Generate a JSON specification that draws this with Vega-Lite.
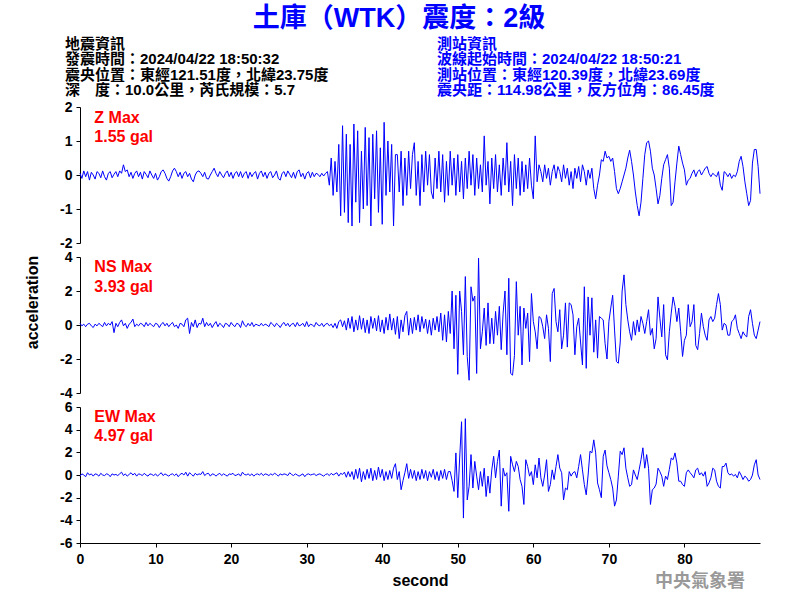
{
"$schema": "https://vega.github.io/schema/vega-lite/v6.json",
"background": "white",
"padding": {"left": 24, "top": 5, "right": 20, "bottom": 6},
"title": {"text": "土庫（WTK）震度：2級", "color": "#0000ff", "fontSize": 27, "font": "Liberation Sans, Noto Sans CJK TC", "fontWeight": "bold", "anchor": "middle", "dx": 6, "offset": 0},
"data": {"values": [
{"t":0,"z":0.05,"n":0.1,"e":-0.1},{"t":0.25,"z":-0.1,"n":-0.05,"e":0.1},{"t":0.5,"z":0.12,"n":0.05,"e":0},{"t":0.75,"z":-0.05,"n":-0.1,"e":-0.15},
{"t":1,"z":0.1,"n":0.05,"e":0.2},{"t":1.25,"z":-0.15,"n":0.1,"e":0},{"t":1.5,"z":0.08,"n":-0.05,"e":0.1},{"t":1.75,"z":0,"n":-0.15,"e":-0.1},
{"t":2,"z":-0.12,"n":0.05,"e":0.1},{"t":2.25,"z":0.1,"n":-0.05,"e":0.05},{"t":2.5,"z":0.05,"n":0.1,"e":-0.1},{"t":2.75,"z":-0.08,"n":0,"e":0.15},
{"t":3,"z":0.12,"n":-0.1,"e":0},{"t":3.25,"z":-0.05,"n":0.15,"e":-0.05},{"t":3.5,"z":-0.15,"n":-0.05,"e":0.1},{"t":3.75,"z":0.05,"n":0.1,"e":0.05},
{"t":4,"z":0.1,"n":0,"e":-0.15},{"t":4.25,"z":-0.08,"n":0.2,"e":0.1},{"t":4.5,"z":0.02,"n":-0.45,"e":0},{"t":4.75,"z":0.1,"n":0.1,"e":0.05},
{"t":5,"z":-0.05,"n":-0.1,"e":-0.05},{"t":5.25,"z":0.12,"n":0.15,"e":0.1},{"t":5.5,"z":0.05,"n":0.3,"e":0.25},{"t":5.75,"z":0.3,"n":-0.05,"e":-0.05},
{"t":6,"z":0.1,"n":0.1,"e":0.1},{"t":6.25,"z":0.15,"n":-0.2,"e":-0.1},{"t":6.5,"z":-0.05,"n":0.05,"e":0.05},{"t":6.75,"z":0.08,"n":0.15,"e":0.2},
{"t":7,"z":-0.1,"n":0.35,"e":0},{"t":7.25,"z":0.05,"n":-0.1,"e":0.15},{"t":7.5,"z":0.12,"n":0.05,"e":-0.1},{"t":7.75,"z":-0.05,"n":-0.05,"e":0.1},
{"t":8,"z":0.08,"n":0.1,"e":0.05},{"t":8.25,"z":-0.12,"n":0.05,"e":-0.05},{"t":8.5,"z":0.1,"n":-0.1,"e":0.15},{"t":8.75,"z":0.02,"n":0.15,"e":0},
{"t":9,"z":-0.08,"n":-0.05,"e":-0.1},{"t":9.25,"z":0.12,"n":0.1,"e":0.1},{"t":9.5,"z":0,"n":0,"e":0.05},{"t":9.75,"z":-0.1,"n":-0.1,"e":-0.05},
{"t":10,"z":0.05,"n":0.1,"e":0.1},{"t":10.25,"z":-0.15,"n":0.05,"e":-0.1},{"t":10.5,"z":-0.05,"n":-0.15,"e":0.05},{"t":10.75,"z":0.1,"n":0.05,"e":0.2},
{"t":11,"z":0.15,"n":0.15,"e":-0.05},{"t":11.25,"z":0.05,"n":-0.05,"e":0.1},{"t":11.5,"z":-0.1,"n":0.1,"e":0},{"t":11.75,"z":-0.18,"n":-0.1,"e":-0.1},
{"t":12,"z":-0.05,"n":0.05,"e":0.05},{"t":12.25,"z":0.12,"n":0.15,"e":0.1},{"t":12.5,"z":0.2,"n":-0.1,"e":-0.05},{"t":12.75,"z":0.1,"n":0,"e":0.1},
{"t":13,"z":-0.05,"n":-0.2,"e":-0.15},{"t":13.25,"z":0.08,"n":0.1,"e":0.05},{"t":13.5,"z":-0.1,"n":0.05,"e":0.15},{"t":13.75,"z":0.05,"n":-0.1,"e":0},
{"t":14,"z":0.1,"n":0.3,"e":0.25},{"t":14.25,"z":-0.05,"n":0.4,"e":-0.1},{"t":14.5,"z":0.05,"n":-0.5,"e":0.2},{"t":14.75,"z":-0.12,"n":0.15,"e":0.05},
{"t":15,"z":-0.2,"n":-0.1,"e":-0.1},{"t":15.25,"z":0,"n":0.3,"e":0.15},{"t":15.5,"z":0.1,"n":-0.15,"e":0},{"t":15.75,"z":0.12,"n":0.1,"e":0.1},
{"t":16,"z":0.05,"n":0.05,"e":0.05},{"t":16.25,"z":-0.05,"n":0.4,"e":0.3},{"t":16.5,"z":0.08,"n":-0.1,"e":-0.05},{"t":16.75,"z":-0.1,"n":0.15,"e":0.1},
{"t":17,"z":-0.12,"n":-0.05,"e":0.15},{"t":17.25,"z":0,"n":0.1,"e":-0.1},{"t":17.5,"z":0.1,"n":-0.15,"e":0.1},{"t":17.75,"z":0.2,"n":0.05,"e":0.05},
{"t":18,"z":0.05,"n":0.2,"e":-0.1},{"t":18.25,"z":-0.05,"n":-0.1,"e":0.05},{"t":18.5,"z":0.1,"n":0.1,"e":0.15},{"t":18.75,"z":0,"n":0,"e":-0.05},
{"t":19,"z":-0.08,"n":-0.15,"e":0.1},{"t":19.25,"z":0.05,"n":0.1,"e":0},{"t":19.5,"z":0.12,"n":0.05,"e":-0.1},{"t":19.75,"z":-0.05,"n":-0.1,"e":0.1},
{"t":20,"z":0.08,"n":0.15,"e":0.05},{"t":20.25,"z":-0.1,"n":0,"e":0.15},{"t":20.5,"z":0.05,"n":-0.1,"e":-0.05},{"t":20.75,"z":0.1,"n":0.1,"e":0},
{"t":21,"z":-0.05,"n":0.05,"e":0.1},{"t":21.25,"z":0.1,"n":-0.15,"e":-0.1},{"t":21.5,"z":-0.08,"n":0.25,"e":0.25},{"t":21.75,"z":0.05,"n":0,"e":0.05},
{"t":22,"z":0.1,"n":-0.1,"e":0},{"t":22.25,"z":-0.1,"n":0.1,"e":0.1},{"t":22.5,"z":0.08,"n":-0.05,"e":-0.05},{"t":22.75,"z":-0.05,"n":0.15,"e":0.1},
{"t":23,"z":0.05,"n":-0.1,"e":-0.1},{"t":23.25,"z":0.1,"n":0.05,"e":0.05},{"t":23.5,"z":-0.12,"n":0,"e":0.1},{"t":23.75,"z":0.05,"n":-0.05,"e":0},
{"t":24,"z":0.12,"n":0.1,"e":0.15},{"t":24.25,"z":-0.05,"n":-0.05,"e":-0.05},{"t":24.5,"z":0.08,"n":0.05,"e":0.1},{"t":24.75,"z":-0.1,"n":0,"e":0.05},
{"t":25,"z":0.05,"n":-0.1,"e":-0.05},{"t":25.25,"z":0.1,"n":0.15,"e":0.1},{"t":25.5,"z":-0.08,"n":0.05,"e":0},{"t":25.75,"z":0,"n":-0.1,"e":0.15},
{"t":26,"z":0.12,"n":0.1,"e":0.05},{"t":26.25,"z":-0.1,"n":0,"e":-0.1},{"t":26.5,"z":-0.15,"n":-0.15,"e":0.1},{"t":26.75,"z":0.05,"n":0.05,"e":0},
{"t":27,"z":0.1,"n":0.15,"e":0.1},{"t":27.25,"z":-0.05,"n":-0.05,"e":0.05},{"t":27.5,"z":0.12,"n":0.1,"e":-0.05},{"t":27.75,"z":0.02,"n":-0.1,"e":0.2},
{"t":28,"z":-0.08,"n":0.05,"e":0.05},{"t":28.25,"z":0.08,"n":0.1,"e":-0.05},{"t":28.5,"z":-0.1,"n":-0.1,"e":0.1},{"t":28.75,"z":0.1,"n":0.15,"e":0},
{"t":29,"z":0.15,"n":-0.05,"e":-0.1},{"t":29.25,"z":-0.05,"n":0,"e":0},{"t":29.5,"z":0.05,"n":0.1,"e":0.1},{"t":29.75,"z":-0.12,"n":-0.1,"e":-0.15},
{"t":30,"z":0.05,"n":0.2,"e":0.05},{"t":30.25,"z":0.1,"n":-0.1,"e":0.1},{"t":30.5,"z":-0.08,"n":0.05,"e":0},{"t":30.75,"z":0.08,"n":0,"e":0.05},
{"t":31,"z":-0.05,"n":-0.1,"e":0.1},{"t":31.25,"z":0.05,"n":0.15,"e":-0.05},{"t":31.5,"z":0.02,"n":0,"e":0.05},{"t":31.75,"z":-0.05,"n":-0.05,"e":0.1},
{"t":32,"z":0.05,"n":0.1,"e":0},{"t":32.25,"z":-0.03,"n":-0.1,"e":-0.1},{"t":32.5,"z":0.05,"n":0.05,"e":0.05},{"t":32.75,"z":0.1,"n":0.1,"e":0.1},
{"t":33,"z":-0.3,"n":-0.05,"e":-0.05},{"t":33.25,"z":0.5,"n":0.05,"e":0.15},{"t":33.5,"z":-0.6,"n":-0.15,"e":0},{"t":33.75,"z":0.4,"n":0.1,"e":0.1},
{"t":34,"z":-0.5,"n":-0.2,"e":0.2},{"t":34.25,"z":0.9,"n":0.2,"e":-0.1},{"t":34.5,"z":-1.2,"n":0.3,"e":0.15},{"t":34.75,"z":1.45,"n":-0.1,"e":0.05},
{"t":35,"z":-1.1,"n":0.25,"e":0.25},{"t":35.25,"z":1.2,"n":-0.3,"e":-0.2},{"t":35.5,"z":-1.4,"n":0.4,"e":0.3},{"t":35.75,"z":0.9,"n":-0.2,"e":-0.15},
{"t":36,"z":-1.5,"n":0.5,"e":0.3},{"t":36.25,"z":1.5,"n":-0.4,"e":-0.4},{"t":36.5,"z":-0.8,"n":0.3,"e":0.5},{"t":36.75,"z":1.3,"n":-0.3,"e":-0.3},
{"t":37,"z":-1.4,"n":0.55,"e":0.6},{"t":37.25,"z":0.7,"n":-0.25,"e":-0.6},{"t":37.5,"z":-1,"n":0.4,"e":0.3},{"t":37.75,"z":1.4,"n":-0.45,"e":-0.4},
{"t":38,"z":-0.9,"n":0.3,"e":0.5},{"t":38.25,"z":1.1,"n":-0.5,"e":-0.3},{"t":38.5,"z":-1.5,"n":0.5,"e":0.6},{"t":38.75,"z":1.2,"n":-0.2,"e":-0.5},
{"t":39,"z":-0.7,"n":0.4,"e":0.4},{"t":39.25,"z":1.3,"n":-0.35,"e":-0.4},{"t":39.5,"z":-1.1,"n":0.55,"e":0.7},{"t":39.75,"z":0.8,"n":-0.4,"e":-0.2},
{"t":40,"z":-1.45,"n":0.3,"e":0.5},{"t":40.25,"z":1.55,"n":-0.5,"e":-0.5},{"t":40.5,"z":-0.6,"n":0.45,"e":0.3},{"t":40.75,"z":1,"n":-0.3,"e":-0.4},
{"t":41,"z":-0.5,"n":0.65,"e":0.4},{"t":41.25,"z":0.9,"n":-0.3,"e":-0.3},{"t":41.5,"z":-1.5,"n":0.4,"e":0.6},{"t":41.75,"z":0.6,"n":-0.55,"e":1},
{"t":42,"z":0.6,"n":0.5,"e":-0.4},{"t":42.25,"z":-0.5,"n":-0.8,"e":0.3},{"t":42.5,"z":0.7,"n":0.3,"e":-1.3},{"t":42.75,"z":-0.9,"n":-0.4,"e":-0.5},
{"t":43,"z":0.5,"n":0.55,"e":0.2},{"t":43.25,"z":-0.6,"n":0.8,"e":1},{"t":43.5,"z":0.7,"n":-0.6,"e":-0.3},{"t":43.75,"z":-0.4,"n":0.4,"e":0.5},
{"t":44,"z":0.6,"n":-0.5,"e":-0.3},{"t":44.25,"z":0.95,"n":0.45,"e":0.4},{"t":44.5,"z":-0.6,"n":-0.3,"e":-0.5},{"t":44.75,"z":0.4,"n":0.6,"e":0.3},
{"t":45,"z":-0.9,"n":-0.4,"e":-0.4},{"t":45.25,"z":0.6,"n":0.5,"e":0.5},{"t":45.5,"z":-0.5,"n":-0.2,"e":-0.3},{"t":45.75,"z":0.7,"n":0.35,"e":0.4},
{"t":46,"z":-0.3,"n":-0.5,"e":-0.5},{"t":46.25,"z":0.6,"n":0.3,"e":0.3},{"t":46.5,"z":-0.5,"n":-0.6,"e":-0.2},{"t":46.75,"z":-0.7,"n":0.4,"e":0.5},
{"t":47,"z":0.5,"n":-0.3,"e":-0.4},{"t":47.25,"z":-0.4,"n":0.5,"e":0.3},{"t":47.5,"z":0.7,"n":-0.4,"e":-0.5},{"t":47.75,"z":-0.5,"n":0.7,"e":0.4},
{"t":48,"z":0.6,"n":-0.9,"e":-0.3},{"t":48.25,"z":-0.8,"n":0.6,"e":0.5},{"t":48.5,"z":0.4,"n":-1,"e":-0.4},{"t":48.75,"z":-0.6,"n":0.8,"e":0.3},
{"t":49,"z":0.7,"n":-0.5,"e":0.3},{"t":49.25,"z":-0.3,"n":2,"e":-0.5},{"t":49.5,"z":0.5,"n":-1.4,"e":-1.45},{"t":49.75,"z":-0.6,"n":1.75,"e":1.95},
{"t":50,"z":0.6,"n":-2.9,"e":-2},{"t":50.25,"z":-0.5,"n":2,"e":1.5},{"t":50.5,"z":0.4,"n":0.8,"e":4.7},{"t":50.75,"z":-0.7,"n":-1.75,"e":-3.8},
{"t":51,"z":0.5,"n":2.85,"e":4.97},{"t":51.25,"z":-0.4,"n":-1.85,"e":-2.2},{"t":51.5,"z":0.7,"n":-3.25,"e":-1},{"t":51.75,"z":-0.3,"n":2.25,"e":1.8},
{"t":52,"z":0.6,"n":1.4,"e":-1.15},{"t":52.25,"z":-0.6,"n":1.7,"e":1.2},{"t":52.5,"z":0.5,"n":-2.85,"e":-0.1},{"t":52.75,"z":-0.4,"n":3.93,"e":-1.3},
{"t":53,"z":0.3,"n":-1.4,"e":0.3},{"t":53.25,"z":-0.5,"n":-0.4,"e":-1},{"t":53.5,"z":1.15,"n":1,"e":0.6},{"t":53.75,"z":-0.3,"n":-1.2,"e":-1.9},
{"t":54,"z":0.4,"n":1.3,"e":-0.1},{"t":54.25,"z":-0.85,"n":-1.1,"e":-1.6},{"t":54.5,"z":0.5,"n":0.4,"e":0.45},{"t":54.75,"z":-0.4,"n":-1.1,"e":1.65},
{"t":55,"z":0.6,"n":0.8,"e":-0.25},{"t":55.25,"z":-0.5,"n":-0.6,"e":1.2},{"t":55.5,"z":0.3,"n":1.1,"e":2.2},{"t":55.75,"z":-0.6,"n":-1.45,"e":-2.75},
{"t":56,"z":0.5,"n":0.7,"e":0.6},{"t":56.25,"z":-0.3,"n":2,"e":-0.1},{"t":56.5,"z":0.95,"n":-1.75,"e":0.2},{"t":56.75,"z":-0.5,"n":2.75,"e":-3.2},
{"t":57,"z":0.4,"n":-2.85,"e":1.65},{"t":57.25,"z":-0.9,"n":-2.95,"e":0.9},{"t":57.5,"z":0.6,"n":-1.8,"e":0.3},{"t":57.75,"z":-0.4,"n":2.55,"e":1.2},
{"t":58,"z":0.5,"n":-0.6,"e":0.75},{"t":58.25,"z":-0.6,"n":1.1,"e":-0.4},{"t":58.5,"z":0.4,"n":-2.35,"e":-1},{"t":58.75,"z":-0.5,"n":1,"e":-2.6},
{"t":59,"z":0.3,"n":-0.2,"e":1.35},{"t":59.25,"z":-0.4,"n":0.7,"e":0.75},{"t":59.5,"z":0.5,"n":-2.15,"e":-0.1},{"t":59.75,"z":-0.3,"n":1.85,"e":0.3},
{"t":60,"z":-0.7,"n":0.2,"e":-0.85},{"t":60.25,"z":1.15,"n":-0.4,"e":0.9},{"t":60.5,"z":-0.2,"n":-1.4,"e":-0.25},{"t":60.75,"z":0.3,"n":0.5,"e":1.5},
{"t":61,"z":0.1,"n":0.4,"e":-0.25},{"t":61.25,"z":-0.2,"n":-0.1,"e":-1},{"t":61.5,"z":0.3,"n":-0.8,"e":0},{"t":61.75,"z":-0.1,"n":0.6,"e":1.35},
{"t":62,"z":0.2,"n":-0.2,"e":-1.45},{"t":62.25,"z":-0.3,"n":-2.15,"e":-0.85},{"t":62.5,"z":0.1,"n":1.85,"e":0.45},{"t":62.75,"z":0.3,"n":2.15,"e":-0.4},
{"t":63,"z":-0.1,"n":0.2,"e":0.75},{"t":63.25,"z":0.25,"n":-0.4,"e":1.8},{"t":63.5,"z":0.1,"n":0.9,"e":0.6},{"t":63.75,"z":-0.2,"n":-1.4,"e":0.2},
{"t":64,"z":0.3,"n":-0.6,"e":-2.2},{"t":64.25,"z":-0.1,"n":1.3,"e":-1.15},{"t":64.5,"z":0.2,"n":-1.3,"e":-1.3},{"t":64.75,"z":-0.3,"n":1.3,"e":0.3},
{"t":65,"z":0.1,"n":1.2,"e":-0.1},{"t":65.25,"z":-0.4,"n":0.6,"e":0.2},{"t":65.5,"z":0.2,"n":-1.75,"e":0.3},{"t":65.75,"z":-0.1,"n":-0.1,"e":-0.25},
{"t":66,"z":0.25,"n":0.4,"e":0.75},{"t":66.25,"z":-0.2,"n":-1,"e":1.8},{"t":66.5,"z":0.3,"n":-2.35,"e":0.45},{"t":66.75,"z":0.1,"n":2.25,"e":-0.85},
{"t":67,"z":-0.3,"n":-2.55,"e":-1.75},{"t":67.25,"z":0.15,"n":1.65,"e":0},{"t":67.5,"z":-0.1,"n":-0.6,"e":2.1},{"t":67.75,"z":0.2,"n":1.6,"e":1.95},
{"t":68,"z":-0.4,"n":-1.6,"e":3.1},{"t":68.25,"z":-0.7,"n":0.3,"e":1.95},{"t":68.5,"z":-0.3,"n":-1.95,"e":-0.7},{"t":68.75,"z":0,"n":0.5,"e":-1.3},
{"t":69,"z":0.45,"n":0.4,"e":-2},{"t":69.25,"z":0.4,"n":0.3,"e":1.65},{"t":69.5,"z":0.7,"n":-1.1,"e":2.2},{"t":69.75,"z":0.5,"n":-2,"e":0.8},
{"t":70,"z":0.55,"n":0.2,"e":0.2},{"t":70.25,"z":0.4,"n":1,"e":-0.4},{"t":70.5,"z":0.5,"n":1.75,"e":-1.15},{"t":70.75,"z":0.1,"n":-0.3,"e":-2.75},
{"t":71,"z":-0.4,"n":-2.15,"e":-2.2},{"t":71.25,"z":-0.55,"n":-2.25,"e":-0.1},{"t":71.5,"z":-0.4,"n":-1,"e":2.1},{"t":71.75,"z":-0.2,"n":2,"e":1.8},
{"t":72,"z":0,"n":2.95,"e":2.4},{"t":72.25,"z":0.2,"n":1.2,"e":0.6},{"t":72.5,"z":0.5,"n":0.3,"e":-0.25},{"t":72.75,"z":0.73,"n":-0.4,"e":-1},
{"t":73,"z":0.4,"n":-0.9,"e":-0.85},{"t":73.25,"z":0,"n":0.2,"e":0.45},{"t":73.5,"z":-0.5,"n":-0.6,"e":0},{"t":73.75,"z":-0.9,"n":0.3,"e":-0.4},
{"t":74,"z":-1.2,"n":-0.4,"e":0.45},{"t":74.25,"z":-0.8,"n":0.5,"e":1.35},{"t":74.5,"z":-0.1,"n":0.1,"e":2.4},{"t":74.75,"z":0.6,"n":-0.5,"e":0.6},
{"t":75,"z":0.95,"n":0.2,"e":1.8},{"t":75.25,"z":1,"n":0.9,"e":0.6},{"t":75.5,"z":0.7,"n":-0.6,"e":-2.6},{"t":75.75,"z":0.2,"n":-0.2,"e":-1.3},
{"t":76,"z":0,"n":-1.4,"e":-1.15},{"t":76.25,"z":-0.4,"n":-0.8,"e":-0.8},{"t":76.5,"z":-0.85,"n":1.65,"e":0.6},{"t":76.75,"z":-0.6,"n":0.4,"e":0.3},
{"t":77,"z":-0.1,"n":-0.7,"e":-0.1},{"t":77.25,"z":0.3,"n":1.2,"e":-1},{"t":77.5,"z":0.45,"n":-1.75,"e":-0.1},{"t":77.75,"z":0.6,"n":-2.05,"e":-0.4},
{"t":78,"z":0.2,"n":-0.4,"e":0.5},{"t":78.25,"z":-0.9,"n":0.7,"e":1.5},{"t":78.5,"z":-0.8,"n":1.65,"e":1.35},{"t":78.75,"z":-0.2,"n":1.1,"e":1.95},
{"t":79,"z":0.35,"n":0.2,"e":1.05},{"t":79.25,"z":0.85,"n":1,"e":-0.55},{"t":79.5,"z":0.6,"n":-0.4,"e":-0.55},{"t":79.75,"z":0.35,"n":-1.85,"e":-0.85},
{"t":80,"z":0.15,"n":-0.9,"e":-1},{"t":80.25,"z":-0.3,"n":-0.6,"e":0.2},{"t":80.5,"z":-0.15,"n":1.2,"e":0.45},{"t":80.75,"z":-0.1,"n":-0.1,"e":0.2},
{"t":81,"z":0.05,"n":0.2,"e":0},{"t":81.25,"z":0.15,"n":1.2,"e":-0.25},{"t":81.5,"z":-0.05,"n":-1.2,"e":0.45},{"t":81.75,"z":0.1,"n":-1.45,"e":0.6},
{"t":82,"z":0.15,"n":-0.5,"e":0},{"t":82.25,"z":0,"n":0.7,"e":0.2},{"t":82.5,"z":0.1,"n":-0.1,"e":-0.1},{"t":82.75,"z":0.2,"n":-0.6,"e":0.3},
{"t":83,"z":0.25,"n":-0.9,"e":-1},{"t":83.25,"z":0.05,"n":0.3,"e":-0.7},{"t":83.5,"z":-0.05,"n":0.5,"e":-0.25},{"t":83.75,"z":0.05,"n":0.2,"e":0.6},
{"t":84,"z":0,"n":0.4,"e":0.45},{"t":84.25,"z":-0.05,"n":1.2,"e":-0.55},{"t":84.5,"z":0.1,"n":1.85,"e":-1},{"t":84.75,"z":-0.3,"n":1.2,"e":-1.15},
{"t":85,"z":-0.45,"n":-0.3,"e":0.75},{"t":85.25,"z":0.1,"n":0.1,"e":0.75},{"t":85.5,"z":0.05,"n":0,"e":1.05},{"t":85.75,"z":-0.05,"n":-0.6,"e":0.2},
{"t":86,"z":0.05,"n":-0.6,"e":0},{"t":86.25,"z":-0.1,"n":0.2,"e":0.1},{"t":86.5,"z":0,"n":0.3,"e":-0.1},{"t":86.75,"z":-0.05,"n":0.6,"e":0.05},
{"t":87,"z":0.1,"n":-0.2,"e":-0.25},{"t":87.25,"z":0.4,"n":-0.5,"e":0.3},{"t":87.5,"z":0.55,"n":-0.8,"e":0},{"t":87.75,"z":0.25,"n":-0.4,"e":-0.4},
{"t":88,"z":-0.2,"n":-0.6,"e":-0.1},{"t":88.25,"z":-0.55,"n":-0.7,"e":-0.25},{"t":88.5,"z":-0.9,"n":0.5,"e":-0.55},{"t":88.75,"z":-0.75,"n":0.9,"e":-0.4},
{"t":89,"z":0.35,"n":0.1,"e":0},{"t":89.25,"z":0.75,"n":-0.6,"e":0.9},{"t":89.5,"z":0.75,"n":-0.8,"e":1.35},{"t":89.75,"z":0.25,"n":-0.3,"e":0},
{"t":90,"z":-0.55,"n":0.2,"e":-0.4}
]},
"spacing": 14,
"bounds": "flush",
"config": {
  "view": {"stroke": null},
  "axis": {"grid": false, "domainColor": "#000000", "domainWidth": 1, "tickColor": "#000000", "tickSize": 4, "tickWidth": 1, "labelFont": "Liberation Sans", "labelFontSize": 14, "labelFontWeight": "bold", "labelColor": "#000000", "labelPadding": 4, "titleFont": "Liberation Sans", "titleFontSize": 16, "titleFontWeight": "bold", "titleColor": "#000000"},
  "axisY": {"minExtent": 24, "maxExtent": 24, "titlePadding": 16, "labelExpr": "replace(datum.label, '−', '-')"},
  "axisX": {"labelFlush": false, "labelPadding": 5, "titlePadding": 6, "labelAngle": 0, "labelExpr": "replace(datum.label, '−', '-')"}
},
"vconcat": [
  {
    "width": 680, "height": 60,
    "data": {"values": [
      {"x": -1.985, "line": 1, "side": "L", "text": "地震資訊"},
      {"x": -1.985, "line": 2, "side": "L", "text": "發震時間：2024/04/22 18:50:32"},
      {"x": -1.985, "line": 3, "side": "L", "text": "震央位置：東經121.51度，北緯23.75度"},
      {"x": -1.985, "line": 4, "side": "L", "text": "深　度：10.0公里，芮氏規模：5.7"},
      {"x": 47.25, "line": 1, "side": "R", "text": "測站資訊"},
      {"x": 47.25, "line": 2, "side": "R", "text": "波線起始時間：2024/04/22 18:50:21"},
      {"x": 47.25, "line": 3, "side": "R", "text": "測站位置：東經120.39度，北緯23.69度"},
      {"x": 47.25, "line": 4, "side": "R", "text": "震央距：114.98公里，反方位角：86.45度"}
    ]},
    "mark": {"type": "text", "align": "left", "baseline": "middle", "fontSize": 15, "fontWeight": "bold", "font": "Liberation Sans Narrow, Liberation Sans, Noto Sans CJK TC"},
    "encoding": {
      "x": {"field": "x", "type": "quantitative", "scale": {"domain": [0, 90], "nice": false, "zero": false}, "axis": null},
      "y": {"field": "line", "type": "quantitative", "scale": {"domain": [0.28, 4.2], "reverse": true, "zero": false, "nice": false}, "axis": null},
      "text": {"field": "text"},
      "color": {"field": "side", "type": "nominal", "scale": {"domain": ["L", "R"], "range": ["#000000", "#0000ff"]}, "legend": null}
    }
  },
  {
    "width": 680, "height": 136,
    "encoding": {
      "x": {"field": "t", "type": "quantitative", "scale": {"domain": [0, 90], "nice": false, "zero": false}, "axis": null},
      "y": {"field": "z", "type": "quantitative", "scale": {"domain": [-2, 2], "nice": false}, "axis": {"values": [-2, -1, 0, 1, 2], "title": null}}
    },
    "layer": [
      {"mark": {"type": "line", "color": "#0000ff", "strokeWidth": 1}},
      {"data": {"values": [{"t": 1.9, "z": 1.69, "label": "Z Max"}, {"t": 1.9, "z": 1.12, "label": "1.55 gal"}]},
       "mark": {"type": "text", "align": "left", "baseline": "middle", "color": "#ff0000", "fontSize": 16, "fontWeight": "bold", "font": "Liberation Sans"},
       "encoding": {"text": {"field": "label"}}}
    ]
  },
  {
    "width": 680, "height": 136,
    "encoding": {
      "x": {"field": "t", "type": "quantitative", "scale": {"domain": [0, 90], "nice": false, "zero": false}, "axis": null},
      "y": {"field": "n", "type": "quantitative", "scale": {"domain": [-4, 4], "nice": false}, "axis": {"values": [-4, -2, 0, 2, 4], "title": "acceleration", "titleY": 45}}
    },
    "layer": [
      {"mark": {"type": "line", "color": "#0000ff", "strokeWidth": 1}},
      {"data": {"values": [{"t": 1.9, "n": 3.41, "label": "NS Max"}, {"t": 1.9, "n": 2.26, "label": "3.93 gal"}]},
       "mark": {"type": "text", "align": "left", "baseline": "middle", "color": "#ff0000", "fontSize": 16, "fontWeight": "bold", "font": "Liberation Sans"},
       "encoding": {"text": {"field": "label"}}}
    ]
  },
  {
    "width": 680, "height": 136,
    "encoding": {
      "x": {"field": "t", "type": "quantitative", "scale": {"domain": [0, 90], "nice": false, "zero": false}, "axis": {"values": [0, 10, 20, 30, 40, 50, 60, 70, 80], "title": "second"}},
      "y": {"field": "e", "type": "quantitative", "scale": {"domain": [-6, 6], "nice": false}, "axis": {"values": [-6, -4, -2, 0, 2, 4, 6], "title": null}}
    },
    "layer": [
      {"mark": {"type": "line", "color": "#0000ff", "strokeWidth": 1}},
      {"data": {"values": [{"t": 1.9, "e": 5.15, "label": "EW Max"}, {"t": 1.9, "e": 3.47, "label": "4.97 gal"}]},
       "mark": {"type": "text", "align": "left", "baseline": "middle", "color": "#ff0000", "fontSize": 16, "fontWeight": "bold", "font": "Liberation Sans"},
       "encoding": {"text": {"field": "label"}}},
      {"data": {"values": [{"t": 88.0, "e": -9.45, "label": "中央氣象署"}]},
       "mark": {"type": "text", "align": "right", "baseline": "middle", "color": "#999999", "fontSize": 18, "fontWeight": "bold", "font": "Noto Sans CJK TC"},
       "encoding": {"text": {"field": "label"}}}
    ]
  }
]
}
